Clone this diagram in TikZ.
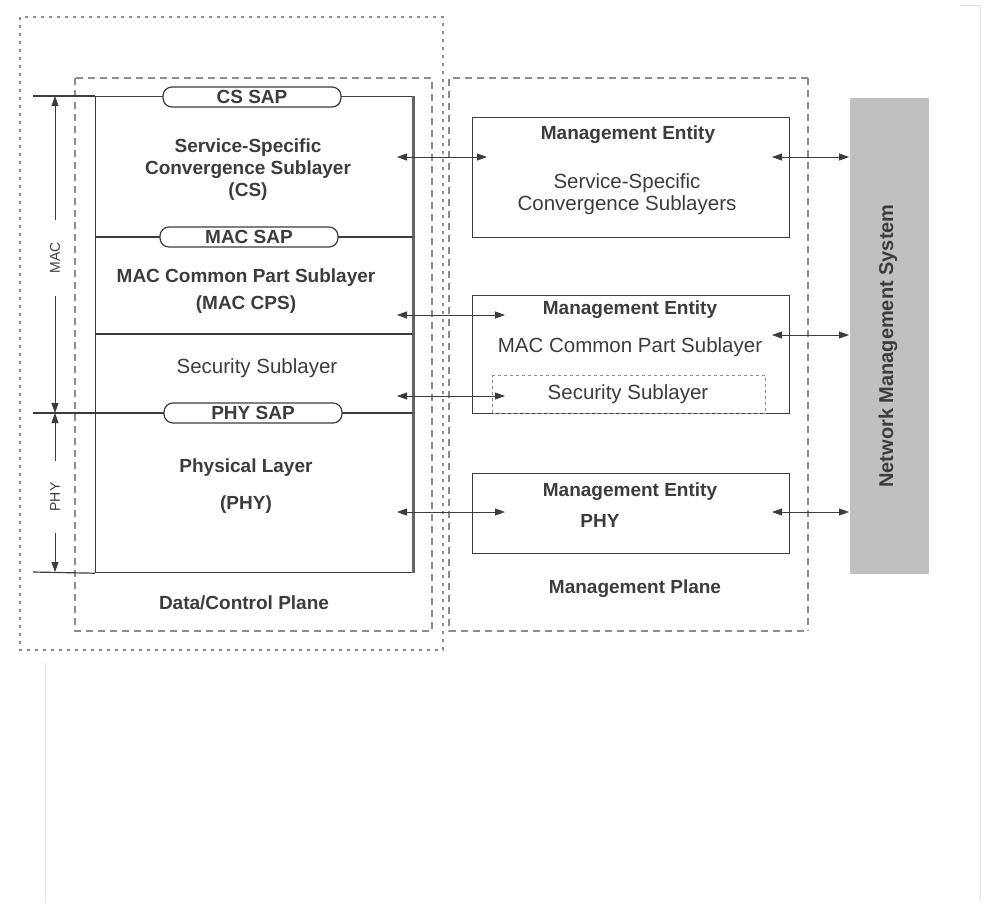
\documentclass[tikz,border=0pt]{standalone}
\usepackage{fontspec}
\setmainfont{Liberation Sans}
\usetikzlibrary{arrows.meta,positioning}
\definecolor{inkgray}{RGB}{60,60,60}
\definecolor{framegray}{RGB}{140,140,140}
\definecolor{nmsgray}{RGB}{192,192,192}
\definecolor{scangray}{RGB}{226,226,226}

\begin{document}
\begin{tikzpicture}[x=1pt,y=-1pt,line width=1.2pt,color=inkgray,
    txt/.style={font=\fontsize{19}{22}\selectfont\bfseries,inner sep=0pt,align=center},
    lite/.style={font=\fontsize{20.5}{22}\selectfont,inner sep=0pt,align=center},
    sap/.style={txt,draw,fill=white,rounded corners=9pt,minimum width=178pt,minimum height=20pt},
    ment/.style={draw,anchor=north west,minimum width=317pt,inner sep=0pt},
    plane/.style={draw=framegray,dash pattern=on 7pt off 5pt},
    outer/.style={draw=framegray,dash pattern=on 3pt off 5pt,line width=2pt},
    both/.style={{Triangle[length=10pt,width=7pt]}-{Triangle[length=10pt,width=7pt]},line width=.8pt},
    dim/.style={-{Triangle[length=10pt,width=7pt]},line width=.8pt},
    side/.style={font=\fontsize{14}{16}\selectfont,rotate=90,inner sep=0pt,outer sep=22pt}]
  \useasboundingbox (0,0) rectangle (984,903);
  % scan edges
  \draw[scangray,line width=1pt] (45,663) -- (45,903);
  \draw[scangray,line width=1pt] (960,5) -- (980,5) -- (980,900);

  % planes
  \draw[outer] (20,17) rectangle (443,650);
  \draw[plane] (75,78) rectangle (432,631);
  \draw[plane] (808,78) -- (449,78) -- (449,631) -- (808,631);
  \draw[plane,line width=2.4pt] (808,78) -- (808,631);

  % data/control stack
  \node[draw,anchor=north west,minimum width=317pt,minimum height=476pt,inner sep=0pt] (stack) at (95,96) {};
  \draw[line width=2.8pt,gray!80!black] (stack.north east) -- (stack.south east);
  \coordinate (topl) at (33,96);
  \coordinate (phyl) at (33,413);
  \coordinate (botl) at (33,572);
  \draw (topl) -- (stack.north west);
  \draw (stack.west |- 0,237) -- (stack.east |- 0,237);
  \draw (stack.west |- 0,334) -- (stack.east |- 0,334);
  \draw (phyl) -- (stack.east |- phyl);
  \draw (botl) -- (stack.south west);

  \node[sap] (cssap) at (252,97) {CS SAP};
  \node[sap] (macsap) at (249,237) {MAC SAP};
  \node[sap] (physap) at (253,413) {PHY SAP};

  \node[txt] (cs) at (248,170) {Service-Specific\\Convergence Sublayer\\(CS)};
  \node[txt] (cps) at (246,291) {MAC Common Part Sublayer\\[5pt](MAC CPS)};
  \node[lite] (sec) at (257,368) {Security Sublayer};
  \node[txt] (phl) at (246,486) {Physical Layer\\[15pt](PHY)};
  \node[txt] (dcp) at (244,603) {Data/Control Plane};

  % MAC / PHY extent
  \node[side] (mac) at (55,258) {MAC};
  \node[side] (phy) at (55,497) {PHY};
  \draw[dim] (mac) -- (55,96);
  \draw[dim] (mac) -- (55,413);
  \draw[dim] (phy) -- (55,413);
  \draw[dim] (phy) -- (55,572);

  % management plane
  \node[ment,minimum height=120pt] (mecs) at (472,117) {};
  \node[txt] (mecsT) at (628,135) {Management Entity};
  \node[lite] (mecsB) at (627,194) {Service-Specific\\Convergence Sublayers};
  \node[ment,minimum height=118pt] (mecps) at (472,295) {};
  \node[txt] (mecpsT) at (630,310) {Management Entity};
  \node[lite] (mecpsB) at (630,347) {MAC Common Part Sublayer};
  \node[draw=framegray,dashed,anchor=north west,minimum width=273pt,minimum height=38pt,inner sep=0pt] (msec) at (492,375) {};
  \node[lite] (msecT) at (628,394) {Security Sublayer};
  \node[ment,minimum height=80pt] (mephy) at (472,473) {};
  \node[txt] (mephyT) at (630,492) {Management Entity};
  \node[txt] (mephyB) at (600,521) {PHY};
  \node[txt] (mp) at (635,589) {Management Plane};

  % network management system
  \node[fill=nmsgray,anchor=north west,minimum width=79pt,minimum height=476pt,inner sep=0pt] (nms) at (849,97) {};
  \node[txt,rotate=90,font=\fontsize{20}{22}\selectfont\bfseries] (nmsT) at (888,346) {Network Management System};

  % links
  \coordinate (l1) at (397,157); \coordinate (r1) at (487,157);
  \coordinate (l2) at (397,315); \coordinate (r2) at (505,315);
  \coordinate (l3) at (397,396); \coordinate (r3) at (505,396);
  \coordinate (l4) at (397,512); \coordinate (r4) at (505,512);
  \draw[both] (l1) -- (r1);
  \draw[both] (l2) -- (r2);
  \draw[both] (l3) -- (r3);
  \draw[both] (l4) -- (r4);
  \coordinate (m1) at (772,157); \coordinate (n1) at (nms.west |- m1);
  \coordinate (m2) at (772,335); \coordinate (n2) at (nms.west |- m2);
  \coordinate (m3) at (772,512); \coordinate (n3) at (nms.west |- m3);
  \draw[both] (m1) -- (n1);
  \draw[both] (m2) -- (n2);
  \draw[both] (m3) -- (n3);
\end{tikzpicture}
\end{document}
